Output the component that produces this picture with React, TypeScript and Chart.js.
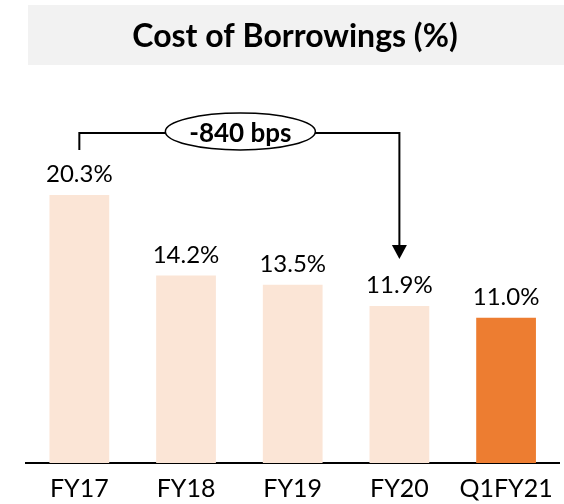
import { useEffect, useRef } from "react";
import { Chart, registerables } from "chart.js";

Chart.register(...registerables);

const categories = ["FY17", "FY18", "FY19", "FY20", "Q1FY21"];
const values = [20.3, 14.2, 13.5, 11.9, 11.0];
const barColors = ["#FBE5D6", "#FBE5D6", "#FBE5D6", "#FBE5D6", "#ED7D31"];
const titleText = "Cost of Borrowings (%)";
const changeLabel = "-840 bps";
const changeFromIndex = 0;
const changeToIndex = 3;
const yMax = 25;

const FONT = "Lato, 'Open Sans', sans-serif";

const backgroundPlugin = {
  id: "bgTitle",
  beforeDraw(chart: any) {
    const ctx = chart.ctx;
    ctx.save();
    ctx.fillStyle = "#FFFFFF";
    ctx.fillRect(0, 0, chart.width, chart.height);
    ctx.fillStyle = "#F2F2F2";
    ctx.fillRect(28, 5, chart.width - 28, 60);
    ctx.fillStyle = "#000000";
    ctx.font = `bold 32px ${FONT}`;
    ctx.textAlign = "center";
    ctx.textBaseline = "alphabetic";
    ctx.fillText(titleText, 295, 47);
    ctx.restore();
  },
};

const valueLabelPlugin = {
  id: "valueLabels",
  afterDatasetsDraw(chart: any) {
    const ctx = chart.ctx;
    const meta = chart.getDatasetMeta(0);
    ctx.save();
    ctx.fillStyle = "#000000";
    ctx.font = `24px ${FONT}`;
    ctx.textAlign = "center";
    ctx.textBaseline = "alphabetic";
    meta.data.forEach((bar: any, i: number) => {
      ctx.fillText(values[i].toFixed(1) + "%", bar.x, bar.y - 13);
    });
    ctx.restore();
  },
};

const bracketPlugin = {
  id: "bracket",
  afterDraw(chart: any) {
    const ctx = chart.ctx;
    const meta = chart.getDatasetMeta(0);
    const a = meta.data[changeFromIndex];
    const b = meta.data[changeToIndex];
    const yTop = chart.chartArea.top;
    const leftBottom = a.y - 45;
    const tipY = b.y - 47;
    const headH = 14;
    const headW = 7.5;
    ctx.save();
    ctx.strokeStyle = "#000000";
    ctx.lineWidth = 2;
    ctx.beginPath();
    ctx.moveTo(a.x, leftBottom);
    ctx.lineTo(a.x, yTop);
    ctx.lineTo(b.x, yTop);
    ctx.lineTo(b.x, tipY - headH);
    ctx.stroke();
    ctx.fillStyle = "#000000";
    ctx.beginPath();
    ctx.moveTo(b.x - headW, tipY - headH);
    ctx.lineTo(b.x + headW, tipY - headH);
    ctx.lineTo(b.x, tipY);
    ctx.closePath();
    ctx.fill();
    const cx = (a.x + b.x) / 2 + 1;
    const cy = yTop - 1.5;
    ctx.beginPath();
    ctx.ellipse(cx, cy, 75, 18.5, 0, 0, Math.PI * 2);
    ctx.fillStyle = "#FFFFFF";
    ctx.fill();
    ctx.lineWidth = 1.5;
    ctx.stroke();
    ctx.fillStyle = "#000000";
    ctx.font = `bold 26px ${FONT}`;
    ctx.textAlign = "center";
    ctx.textBaseline = "alphabetic";
    ctx.fillText(changeLabel, cx, yTop + 9);
    ctx.restore();
  },
};

export default function App() {
  const canvasRef = useRef<HTMLCanvasElement | null>(null);

  useEffect(() => {
    if (!canvasRef.current) return;
    const chart = new Chart(canvasRef.current, {
      type: "bar",
      data: {
        labels: categories,
        datasets: [
          {
            data: values,
            backgroundColor: barColors,
            borderWidth: 0,
            barPercentage: 0.56,
            categoryPercentage: 1,
          },
        ],
      },
      options: {
        responsive: false,
        animation: false,
        layout: { padding: { top: 133, left: 26, right: 3, bottom: 0 } },
        plugins: {
          legend: { display: false },
          title: { display: false },
          tooltip: { enabled: false },
        },
        scales: {
          x: {
            grid: { display: false, drawTicks: false },
            border: { display: true, color: "#000000", width: 2 },
            ticks: {
              color: "#000000",
              font: { family: FONT, size: 25 },
              padding: 11,
            },
            afterFit: (scale: any) => {
              scale.height = 41;
            },
          },
          y: {
            display: false,
            min: 0,
            max: yMax,
          },
        },
      },
      plugins: [backgroundPlugin, valueLabelPlugin, bracketPlugin],
    });
    return () => chart.destroy();
  }, []);

  return (
    <div style={{ position: "fixed", left: 0, top: 0, width: 564, height: 504, background: "#fff" }}>
      <canvas ref={canvasRef} width={564} height={504} style={{ display: "block" }} />
    </div>
  );
}
